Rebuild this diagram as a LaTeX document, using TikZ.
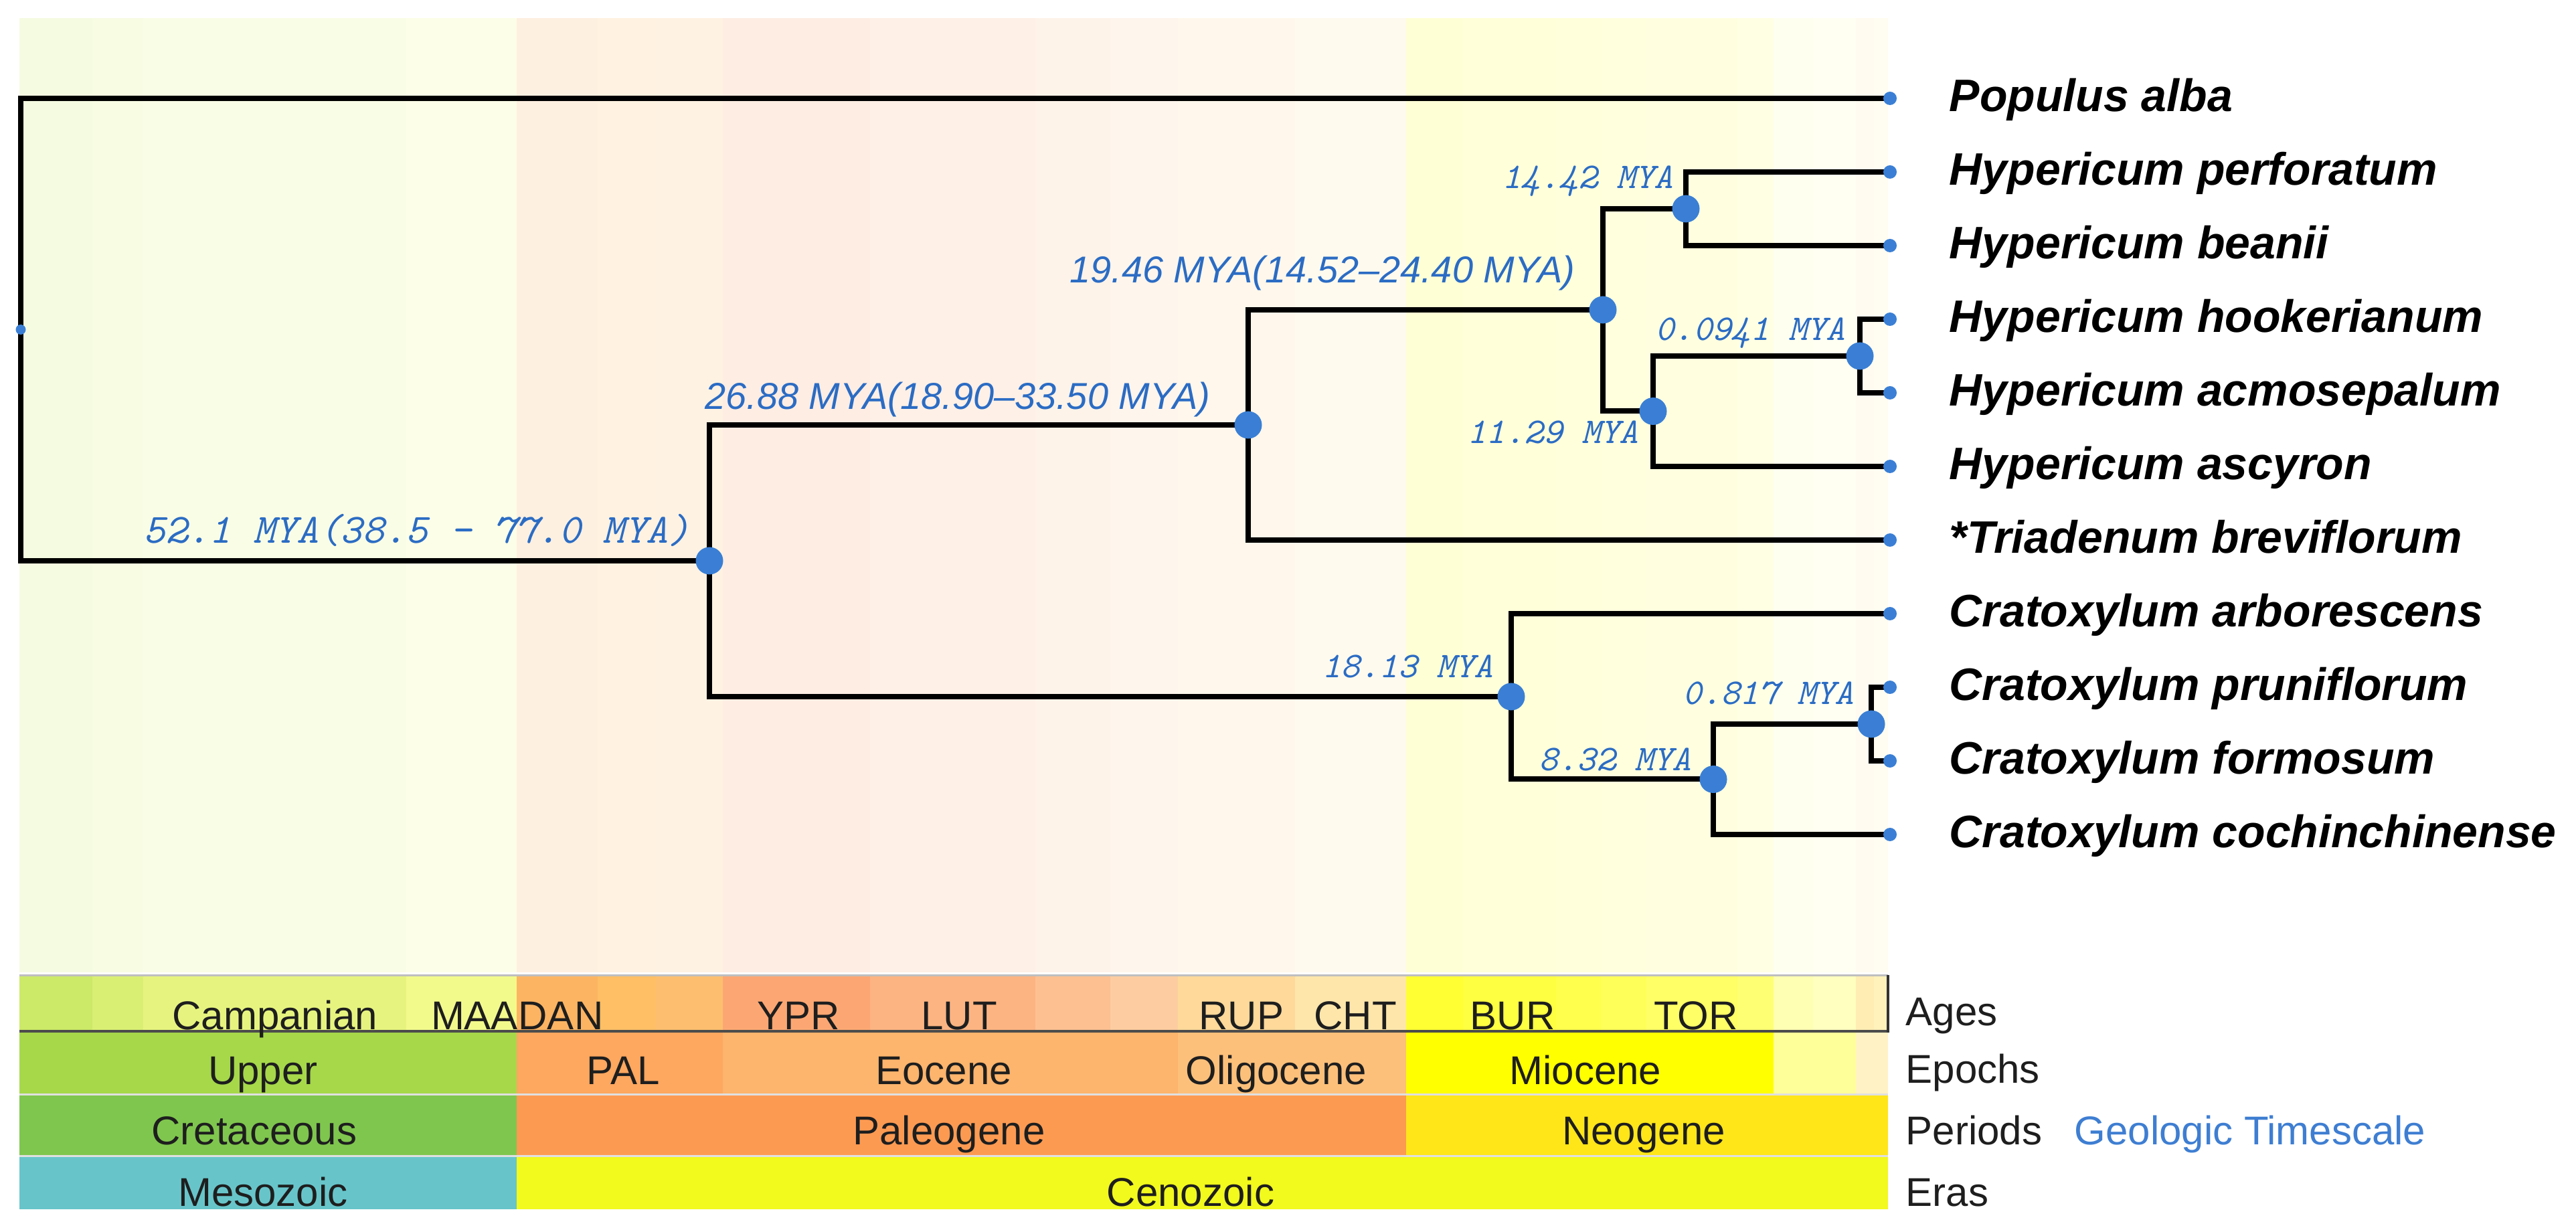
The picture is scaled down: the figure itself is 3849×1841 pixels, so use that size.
\documentclass[tikz,border=0pt]{standalone}
\usepackage{fontspec}
\setmainfont{Liberation Sans}
\definecolor{dotblue}{HTML}{3A7FD5}
\definecolor{labblue}{HTML}{2B6CC4}
\definecolor{gtblue}{HTML}{3E7ED2}
\definecolor{tstext}{HTML}{1E1E1E}
\newcommand{\spf}{\fontsize{19.35pt}{22pt}\selectfont\bfseries\itshape}
\newcommand{\tsf}{\fontsize{17.07pt}{20pt}\selectfont}
\newcommand{\myasans}{\fontsize{15.9pt}{18pt}\selectfont\itshape}
\newcommand{\myamono}{\fontsize{15.4pt}{18pt}\selectfont\ttfamily\itshape}
\newcommand{\myamonoL}{\fontsize{17.7pt}{20pt}\selectfont\ttfamily\itshape}
\begin{document}
\begin{tikzpicture}[x=0.1mm,y=-0.1mm,
  branch/.style={line width=0.8mm,black},
  dotbig/.style={circle,fill=dotblue,inner sep=0pt,minimum size=4.1mm},
  dottip/.style={circle,fill=dotblue,inner sep=0pt,minimum size=2mm},
  dotroot/.style={circle,fill=dotblue,inner sep=0pt,minimum size=1.5mm},
  species/.style={anchor=base west,inner sep=0pt,font=\spf},
  mya/.style={anchor=base east,inner sep=0pt,text=labblue},
  tslab/.style={anchor=base,inner sep=0pt,font=\tsf,text=tstext},
  rowlab/.style={anchor=base west,inner sep=0pt,font=\tsf,text=tstext}]
\useasboundingbox (0,0) rectangle (3849,1841);
\fill[white] (0,0) rectangle (3849,1841);

% ---- age columns: tree background (pale) and Ages row
\foreach \a/\b/\c in {28.6/138/CCE968,138/214/D9EF74,214/607/E6F47F,607/772/F2FA8C,
  772/893/FDB462,893/980/FEBF65,980/1080/FDBF6F,1080/1300/FCA773,1300/1547/FCB482,
  1547/1659/FDC091,1659/1760/FDCDA1,1760/1935/FED99A,1935/2101/FEE6AA,
  2101/2186/FFFF33,2186/2325/FFFF41,2325/2392/FFFF4D,2392/2460/FFFF59,
  2460/2596/FFFF66,2596/2650/FFFF73,2650/2709/FFFFB3,2709/2773/FFFFBF,
  2773/2800/FFEDB3,2800/2821/FFF2BA}{
  \definecolor{agec}{HTML}{\c}
  \fill[agec!20!white] (\a,27) rectangle (\b,1453);
  \fill[agec] (\a,1457) rectangle (\b,1541);
}
% ---- Epochs
\foreach \a/\b/\c in {28.6/772/A6D84A,772/1080/FDA75F,1080/1760/FDB46C,
  1760/2101/FDC07A,2101/2650/FFFF00,2650/2773/FFFF99,2773/2821/FFF2C4}{
  \definecolor{epc}{HTML}{\c}
  \fill[epc] (\a,1541) rectangle (\b,1635);
}
% ---- Periods
\foreach \a/\b/\c in {28.6/772/7FC64E,772/2101/FD9A52,2101/2821/FFE619}{
  \definecolor{pec}{HTML}{\c}
  \fill[pec] (\a,1635) rectangle (\b,1727);
}
% ---- Eras
\foreach \a/\b/\c in {28.6/772/67C5CA,772/2821/F2F91D}{
  \definecolor{erc}{HTML}{\c}
  \fill[erc] (\a,1727) rectangle (\b,1807);
}
% row separators
\draw[black!25,line width=0.3mm] (28.6,1457) -- (2821,1457);
\draw[black!12,line width=0.3mm] (28.6,1635) -- (2821,1635);
\draw[black!12,line width=0.3mm] (28.6,1727) -- (2821,1727);
\draw[black!70,line width=0.4mm] (28.6,1541) -- (2821,1541);
\draw[black!80,line width=0.35mm] (2821,1457) -- (2821,1543);

% ---- timescale labels
\node[tslab] (aCam) at (411,1538) {Campanian};
\node[tslab] (aMaa) at (709,1538) {MAA};
\node[tslab] (aDan) at (838,1538) {DAN};
\node[tslab] (aYpr) at (1193,1538) {YPR};
\node[tslab] (aLut) at (1433,1538) {LUT};
\node[tslab] (aRup) at (1855,1538) {RUP};
\node[tslab] (aCht) at (2025,1538) {CHT};
\node[tslab] (aBur) at (2260,1538) {BUR};
\node[tslab] (aTor) at (2534,1538) {TOR};
\node[tslab] (eUpp) at (393,1620) {Upper};
\node[tslab] (ePal) at (931,1620) {PAL};
\node[tslab] (eEoc) at (1410,1620) {Eocene};
\node[tslab] (eOli) at (1907,1620) {Oligocene};
\node[tslab] (eMio) at (2369,1620) {Miocene};
\node[tslab] (pCre) at (380,1710) {Cretaceous};
\node[tslab] (pPal) at (1418,1710) {Paleogene};
\node[tslab] (pNeo) at (2456,1710) {Neogene};
\node[tslab] (rMes) at (393,1802) {Mesozoic};
\node[tslab] (rCen) at (1779,1802) {Cenozoic};
\node[rowlab] (lAges) at (2847,1533) {Ages};
\node[rowlab] (lEpo) at (2847,1618) {Epochs};
\node[rowlab] (lPer) at (2847,1710) {Periods};
\node[rowlab] (lEra) at (2847,1802) {Eras};
\node[rowlab,text=gtblue] (lGeo) at (3099,1710) {Geologic Timescale};

% ---- tree coordinates
\coordinate (root) at (31,492.5);
\coordinate (n52) at (1060,838);
\coordinate (n26) at (1865,635);
\coordinate (n19) at (2395,463);
\coordinate (n14) at (2519,312);
\coordinate (n11) at (2470,614.5);
\coordinate (n009) at (2779,532);
\coordinate (n18) at (2258,1041);
\coordinate (n8) at (2560,1164.5);
\coordinate (n08) at (2796,1082);
\foreach \i in {0,...,10}{\coordinate (t\i) at (2824,147+110*\i);}

% ---- branches
\draw[branch] (root) |- (t0);
\draw[branch] (root) |- (n52);
\draw[branch] (n52) |- (n26);
\draw[branch] (n52) |- (n18);
\draw[branch] (n26) |- (n19);
\draw[branch] (n26) |- (t6);
\draw[branch] (n19) |- (n14);
\draw[branch] (n19) |- (n11);
\draw[branch] (n14) |- (t1);
\draw[branch] (n14) |- (t2);
\draw[branch] (n11) |- (n009);
\draw[branch] (n11) |- (t5);
\draw[branch] (n009) |- (t3);
\draw[branch] (n009) |- (t4);
\draw[branch] (n18) |- (t7);
\draw[branch] (n18) |- (n8);
\draw[branch] (n8) |- (n08);
\draw[branch] (n8) |- (t10);
\draw[branch] (n08) |- (t8);
\draw[branch] (n08) |- (t9);

% ---- dots
\node[dotroot] (droot) at (root) {};
\foreach \n in {n52,n26,n19,n14,n11,n009,n18,n8,n08}{\node[dotbig] (d\n) at (\n) {};}
\foreach \i in {0,...,10}{\node[dottip] (dt\i) at (t\i) {};}

% ---- node age labels
\node[mya,font=\myamonoL] (l52) at (1032,812) {52.1 MYA(38.5 - 77.0 MYA)};
\node[mya,font=\myasans] (l26) at (1809,612) {26.88 MYA(18.90–33.50 MYA)};
\node[mya,font=\myasans] (l19) at (2354,423) {19.46 MYA(14.52–24.40 MYA)};
\node[mya,font=\myamono] (l14) at (2501,282) {14.42 MYA};
\node[mya,font=\myamono] (l009) at (2758,509) {0.0941 MYA};
\node[mya,font=\myamono] (l11) at (2449,663) {11.29 MYA};
\node[mya,font=\myamono] (l18) at (2232,1013) {18.13 MYA};
\node[mya,font=\myamono] (l8) at (2528,1152) {8.32 MYA};
\node[mya,font=\myamono] (l08) at (2771,1053) {0.817 MYA};

% ---- species
\node[species] (s0) at (2912,167) {Populus alba};
\node[species] (s1) at (2912,277) {Hypericum perforatum};
\node[species] (s2) at (2912,387) {Hypericum beanii};
\node[species] (s3) at (2912,497) {Hypericum hookerianum};
\node[species] (s4) at (2912,607) {Hypericum acmosepalum};
\node[species] (s5) at (2912,717) {Hypericum ascyron};
\node[species] (s6) at (2912,827) {*Triadenum breviflorum};
\node[species] (s7) at (2912,937) {Cratoxylum arborescens};
\node[species] (s8) at (2912,1047) {Cratoxylum pruniflorum};
\node[species] (s9) at (2912,1157) {Cratoxylum formosum};
\node[species] (s10) at (2912,1267) {Cratoxylum cochinchinense};
\end{tikzpicture}
\end{document}
